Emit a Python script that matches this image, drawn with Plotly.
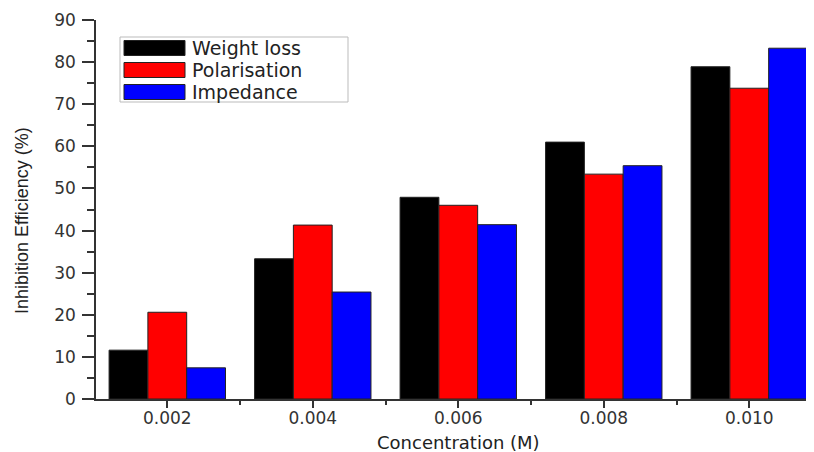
import plotly.graph_objects as go

# ---- data ----
concentrations = [0.002, 0.004, 0.006, 0.008, 0.010]
weight_loss = [11.6, 33.3, 47.9, 61.0, 78.9]
polarisation = [20.6, 41.3, 46.0, 53.4, 73.8]
impedance = [7.4, 25.4, 41.4, 55.4, 83.3]
series_names = ["Weight loss", "Polarisation", "Impedance"]
series_colors = ["#000000", "#ff0000", "#0000ff"]
x_title = "Concentration (M)"
y_title = "Inhibition Efficiency (%)"

W, H = 814, 452
L, R, T, B = 96, 8, 20, 53
PW, PH = W - L - R, H - T - B


def px(xpix):
    return (xpix - L) / PW


def py(ypix):
    return (H - B - ypix) / PH


fig = go.Figure()
for name, vals, col in zip(series_names, [weight_loss, polarisation, impedance], series_colors):
    fig.add_trace(go.Bar(x=concentrations, y=vals, name=name,
                         marker=dict(color=col, line=dict(color="#222", width=1)),
                         showlegend=False))

axis_col = "#333"
tickfont = dict(family="DejaVu Sans", size=17, color="#333")

fig.update_layout(
    width=W, height=H,
    margin=dict(l=L, r=R, t=T, b=B, autoexpand=False),
    paper_bgcolor="white", plot_bgcolor="white",
    barmode="group", bargap=0.2, bargroupgap=0,
    showlegend=False,
    xaxis=dict(range=[0.00102, 0.01078], tick0=0.002, dtick=0.002, tickformat=".3f",
               ticks="outside", ticklen=7, tickwidth=1.5, tickcolor=axis_col,
               minor=dict(tick0=0.001, dtick=0.001, ticks="outside", ticklen=4, tickwidth=1.5, tickcolor=axis_col),
               showline=True, linecolor=axis_col, linewidth=1.5, showgrid=False, zeroline=False,
               tickfont=tickfont, automargin=False, ticklabelstandoff=-4),
    xaxis2=dict(overlaying="x", side="top", anchor="y", range=[0.00102, 0.01078],
                tick0=0.001, dtick=0.002, ticks="inside", ticklen=7, tickwidth=1.5, tickcolor=axis_col,
                minor=dict(tick0=0.0, dtick=0.001, ticks="inside", ticklen=4, tickwidth=1.5, tickcolor=axis_col),
                showticklabels=False, showline=True, linecolor=axis_col, linewidth=1.5,
                showgrid=False, zeroline=False, automargin=False),
    yaxis=dict(range=[0, 90], dtick=10, ticks="outside", ticklen=12, tickwidth=1.5, tickcolor=axis_col,
               minor=dict(dtick=5, ticks="outside", ticklen=7, tickwidth=1.5, tickcolor=axis_col),
               showline=True, linecolor=axis_col, linewidth=1.5, showgrid=False, zeroline=False,
               tickfont=tickfont, automargin=False, ticklabelstandoff=3),
    yaxis2=dict(overlaying="y", side="right", anchor="x", range=[0, 5], dtick=1,
                ticks="outside", ticklen=6, tickwidth=1.5, tickcolor=axis_col,
                minor=dict(dtick=0.5, ticks="outside", ticklen=3, tickwidth=1.5, tickcolor=axis_col),
                showticklabels=False, showline=True, linecolor=axis_col, linewidth=1.5,
                showgrid=False, zeroline=False, automargin=False),
)

# axis titles
fig.add_annotation(text=x_title, xref="paper", yref="paper", x=px(458), y=0,
                   xanchor="center", yanchor="top", yshift=-31, showarrow=False,
                   font=dict(family="DejaVu Sans", size=18, color="#222"))
fig.add_annotation(text=y_title, xref="paper", yref="paper", x=0, y=py(221),
                   xanchor="center", yanchor="middle", xshift=22 - L, textangle=-90, showarrow=False,
                   font=dict(family="Liberation Sans", size=18, color="#222"))

# manual legend (large swatches as in the original)
fig.add_shape(type="rect", xref="paper", yref="paper", x0=px(120), x1=px(348), y0=py(102), y1=py(37),
              line=dict(color="#bbb", width=1), fillcolor="white", layer="above")
row_centers = [48, 70, 92]
for name, col, yc in zip(series_names, series_colors, row_centers):
    fig.add_shape(type="rect", xref="paper", yref="paper", x0=px(124), x1=px(185),
                  y0=py(yc + 7.5), y1=py(yc - 7.5), line=dict(color="#222", width=1),
                  fillcolor=col, layer="above")
    fig.add_annotation(text=name, xref="paper", yref="paper", x=px(191), y=py(yc),
                       xanchor="left", yanchor="middle", showarrow=False, borderpad=0,
                       font=dict(family="DejaVu Sans", size=19, color="#222"))

fig.write_html("out.html", config={"displayModeBar": False},
               post_script="document.body.style.margin='0';")
